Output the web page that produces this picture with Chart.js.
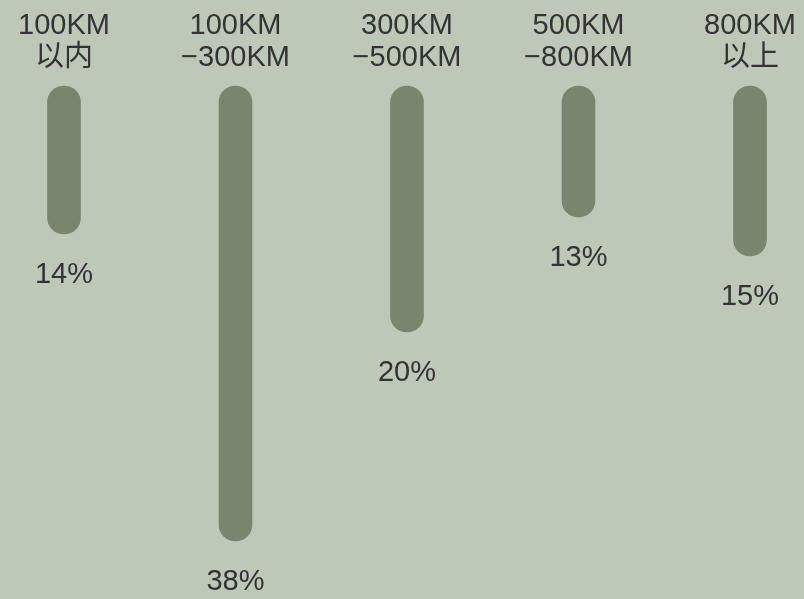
<!DOCTYPE html>
<html>
<head>
<meta charset="utf-8">
<script src="https://cdn.jsdelivr.net/npm/chart.js@4.4.1/dist/chart.umd.min.js"></script>
<style>
  html, body { margin: 0; padding: 0; background: #bec8b8; }
  #wrap { width: 804px; height: 599px; }
</style>
</head>
<body>
<div id="wrap"><canvas id="distChart"></canvas></div>
<script>
// distance bands (two-line tick labels)
const categories = [
    ['100KM', '以内'],
    ['100KM', '−300KM'],
    ['300KM', '−500KM'],
    ['500KM', '−800KM'],
    ['800KM', '以上']
];
// bar lengths
const barValues = [14.8, 45.5, 24.6, 13.1, 17.0];
// labels printed under each bar
const pctLabels = ['14%', '38%', '20%', '13%', '15%'];

const FONT = "Arial, 'Liberation Sans', 'Noto Sans CJK SC', sans-serif";
const TEXT = '#333333';

const valueLabels = {
    id: 'valueLabels',
    afterDatasetsDraw(chart) {
        const ctx = chart.ctx;
        const meta = chart.getDatasetMeta(0);
        ctx.save();
        ctx.font = '29px ' + FONT;
        ctx.fillStyle = TEXT;
        ctx.textAlign = 'center';
        ctx.textBaseline = 'middle';
        meta.data.forEach((bar, i) => {
            ctx.fillText(pctLabels[i], bar.x, bar.y + 41);
        });
        ctx.restore();
    }
};

const ctx = document.getElementById('distChart').getContext('2d');
var chart = new Chart(ctx, {
    type: 'bar',
    data: {
        labels: categories,
        datasets: [{
            data: barValues,
            backgroundColor: '#7a8570',
            barThickness: 33,
            borderRadius: 16.5,
            borderSkipped: false,
            clip: false
        }]
    },
    options: {
        responsive: true,
        maintainAspectRatio: false,
        animation: false,
        layout: {
            padding: { top: 6, left: 64, right: 54, bottom: 13 }
        },
        plugins: {
            legend: { display: false },
            tooltip: { enabled: false }
        },
        scales: {
            x: {
                position: 'top',
                offset: false,
                grid: { display: false },
                border: { display: false },
                ticks: {
                    color: TEXT,
                    padding: 4,
                    maxRotation: 0,
                    autoSkip: false,
                    font: { size: 29, family: FONT, lineHeight: '32px' }
                }
            },
            y: {
                display: false,
                reverse: true,
                min: 0,
                max: 50
            }
        }
    },
    plugins: [valueLabels]
});
</script>
</body>
</html>
